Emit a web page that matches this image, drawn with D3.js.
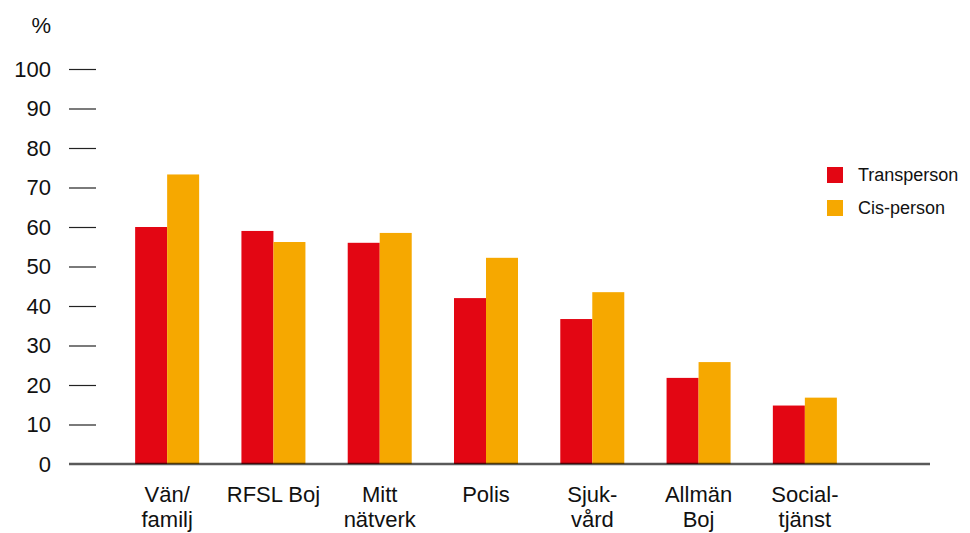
<!DOCTYPE html>
<html><head><meta charset="utf-8">
<script src="https://cdn.jsdelivr.net/npm/d3@7"></script>
<style>body{margin:0;background:#fff}svg{display:block;font-family:"Liberation Sans",Arial,Helvetica,sans-serif}</style>
</head><body>
<script>
const categories = [["Vän/","familj"],["RFSL Boj"],["Mitt","nätverk"],["Polis"],["Sjuk-","vård"],["Allmän","Boj"],["Social-","tjänst"]];
const seriesNames = ["Transperson","Cis-person"];
const transperson = [60, 59, 56, 42, 36.7, 21.8, 14.8];
const cisperson = [73.3, 56.2, 58.5, 52.2, 43.5, 25.8, 16.8];
const yTicks = [10,20,30,40,50,60,70,80,90,100];
const colors = ["#E30613","#F6A800"];

const W=970,H=533;
const svg=d3.select("body").append("svg").attr("width",W).attr("height",H);
const keys = categories.map(c=>c.join(" "));
const x0=d3.scaleBand().domain(keys).range([114,858]).padding(0);
const x1=d3.scaleBand().domain(seriesNames).range([-32,32]);
const y=d3.scaleLinear().domain([0,100]).range([464,69]);

// y ticks
const yAxis=svg.append("g").attr("transform","translate(69,0)")
  .call(d3.axisRight(y).tickValues(yTicks).tickSize(27).tickFormat(()=>""));
yAxis.select(".domain").remove();
yAxis.selectAll(".tick line").attr("stroke","#222").attr("stroke-width",1.2);
svg.append("g").selectAll("text").data([0].concat(yTicks)).join("text")
  .attr("x",51).attr("y",d=>y(d)).attr("dy","0.36em").attr("text-anchor","end")
  .attr("font-size",22).attr("fill","#111").text(d=>d);
svg.append("text").attr("x",51).attr("y",33).attr("text-anchor","end")
  .attr("font-size",22).attr("fill","#111").text("%");

// bars
const data=[transperson,cisperson];
const g=svg.append("g");
categories.forEach((c,i)=>{
  seriesNames.forEach((s,j)=>{
    const v=data[j][i];
    g.append("rect")
      .attr("x",x0(keys[i])+x0.bandwidth()/2+x1(s))
      .attr("width",x1.bandwidth())
      .attr("y",y(v)).attr("height",y(0)-y(v))
      .attr("fill",colors[j]);
  });
});

// baseline
svg.append("line").attr("x1",69).attr("x2",930).attr("y1",y(0)).attr("y2",y(0))
  .attr("stroke","#000").attr("stroke-opacity",0.65).attr("stroke-width",2.5);

// category labels
const xl=svg.append("g");
categories.forEach((c,i)=>{
  const t=xl.append("text").attr("text-anchor","middle").attr("font-size",22).attr("fill","#111")
    .attr("transform",`translate(${x0(keys[i])+x0.bandwidth()/2},502)`);
  c.forEach((line,k)=>t.append("tspan").attr("x",0).attr("y",k*25).text(line));
});

// legend
const lg=svg.append("g");
seriesNames.forEach((s,j)=>{
  lg.append("rect").attr("x",827).attr("y",167+j*33).attr("width",16).attr("height",16).attr("fill",colors[j]);
  lg.append("text").attr("x",858).attr("y",181+j*33).attr("font-size",18).attr("fill","#111").text(s);
});
</script>
</body></html>
